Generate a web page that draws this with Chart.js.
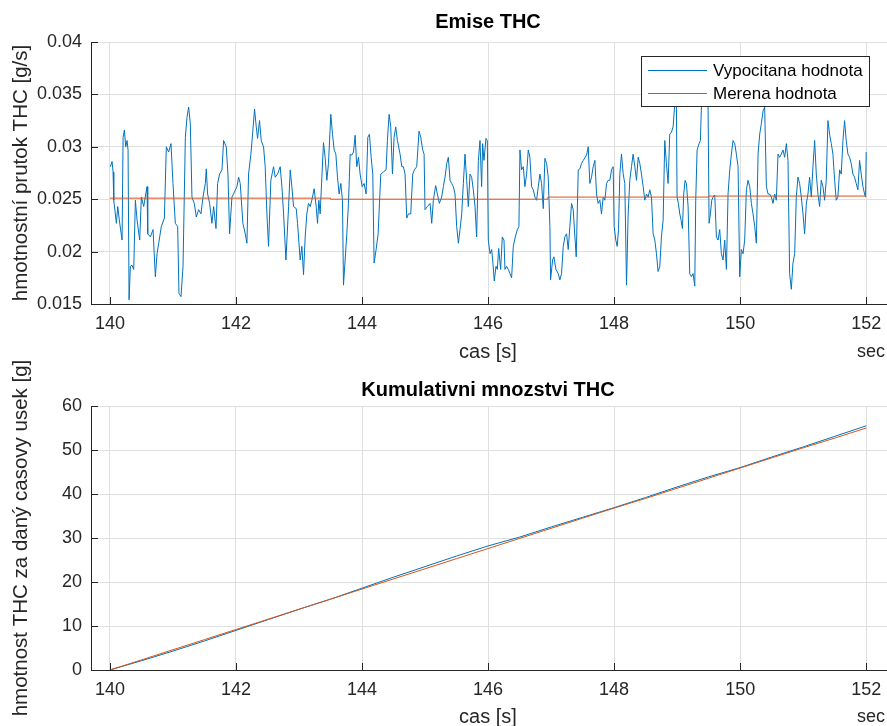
<!DOCTYPE html>
<html>
<head>
<meta charset="utf-8">
<script src="https://cdn.jsdelivr.net/npm/chart.js@4.4.1/dist/chart.umd.min.js"></script>
<style>
    html, body { margin: 0; padding: 0; background: #fff; }
    #wrap { position: relative; width: 887px; height: 726px; overflow: hidden; }
    canvas { position: absolute; left: 0; }
    #emise { top: 0; }
    #kumul { top: 330px; }
</style>
</head>
<body>
<div id="wrap">
    <canvas id="emise" width="887" height="363"></canvas>
    <canvas id="kumul" width="887" height="396"></canvas>
</div>
<script>
/* ===========================
   DATA
=========================== */

const xTicks = [140, 142, 144, 146, 148, 150, 152];
const emiseTicks = [0.015, 0.02, 0.025, 0.03, 0.035, 0.04];
const kumulTicks = [0, 10, 20, 30, 40, 50, 60];

// Emise THC - vypocitana hodnota (cas [s], g/s)
const casVypocitana = [
    140.008, 140.034, 140.050, 140.061, 140.103, 140.124, 140.156, 140.193, 140.209, 140.230,
    140.251, 140.272, 140.288, 140.304, 140.325, 140.351, 140.378, 140.404, 140.431, 140.473,
    140.499, 140.536, 140.589, 140.600, 140.642, 140.684, 140.721, 140.748, 140.790, 140.816,
    140.864, 140.895, 140.932, 140.969, 141.001, 141.038, 141.075, 141.096, 141.128, 141.160,
    141.197, 141.223, 141.249, 141.276, 141.302, 141.339, 141.371, 141.408, 141.445, 141.477,
    141.514, 141.529, 141.550, 141.582, 141.619, 141.646, 141.683, 141.709, 141.741, 141.778,
    141.804, 141.846, 141.873, 141.899, 141.936, 141.962, 142.015, 142.042, 142.068, 142.110,
    142.147, 142.174, 142.200, 142.237, 142.269, 142.295, 142.322, 142.343, 142.374, 142.401,
    142.438, 142.464, 142.491, 142.517, 142.554, 142.596, 142.623, 142.660, 142.702, 142.729,
    142.756, 142.793, 142.835, 142.861, 142.887, 142.914, 142.956, 142.977, 143.019, 143.046,
    143.072, 143.098, 143.125, 143.151, 143.178, 143.204, 143.241, 143.273, 143.294, 143.315,
    143.336, 143.363, 143.389, 143.415, 143.442, 143.468, 143.505, 143.532, 143.558, 143.585,
    143.611, 143.637, 143.664, 143.690, 143.706, 143.732, 143.759, 143.785, 143.812, 143.838,
    143.865, 143.891, 143.917, 143.944, 143.970, 144.002, 144.034, 144.065, 144.092, 144.118,
    144.145, 144.171, 144.192, 144.224, 144.256, 144.277, 144.298, 144.340, 144.382, 144.403,
    144.430, 144.456, 144.483, 144.509, 144.535, 144.562, 144.604, 144.631, 144.657, 144.683,
    144.710, 144.736, 144.773, 144.805, 144.831, 144.868, 144.905, 144.932, 144.963, 144.985,
    145.000, 145.037, 145.080, 145.106, 145.132, 145.169, 145.196, 145.227, 145.264, 145.291,
    145.317, 145.344, 145.370, 145.397, 145.423, 145.449, 145.476, 145.502, 145.529, 145.555,
    145.582, 145.608, 145.634, 145.661, 145.687, 145.714, 145.740, 145.766, 145.793, 145.819,
    145.846, 145.872, 145.898, 145.914, 145.935, 145.967, 145.988, 146.004, 146.031, 146.057,
    146.073, 146.099, 146.126, 146.147, 146.168, 146.200, 146.226, 146.253, 146.268, 146.295,
    146.321, 146.348, 146.374, 146.400, 146.432, 146.464, 146.490, 146.506, 146.532, 146.559,
    146.585, 146.612, 146.638, 146.664, 146.691, 146.717, 146.744, 146.770, 146.797, 146.823,
    146.849, 146.876, 146.902, 146.929, 146.955, 146.981, 146.992, 147.024, 147.045, 147.077,
    147.114, 147.140, 147.166, 147.193, 147.219, 147.246, 147.272, 147.298, 147.325, 147.351,
    147.378, 147.399, 147.431, 147.457, 147.483, 147.510, 147.542, 147.563, 147.589, 147.615,
    147.642, 147.668, 147.695, 147.721, 147.747, 147.774, 147.800, 147.827, 147.853, 147.880,
    147.906, 147.932, 147.959, 147.985, 148.001, 148.027, 148.049, 148.070, 148.091, 148.117,
    148.144, 148.170, 148.197, 148.223, 148.249, 148.276, 148.302, 148.329, 148.355, 148.382,
    148.408, 148.434, 148.461, 148.487, 148.514, 148.540, 148.566, 148.593, 148.619, 148.646,
    148.672, 148.698, 148.725, 148.751, 148.778, 148.804, 148.830, 148.857, 148.883, 148.910,
    148.936, 148.963, 148.978, 148.989, 148.999, 149.020, 149.042, 149.063, 149.084, 149.105,
    149.126, 149.147, 149.174, 149.200, 149.227, 149.253, 149.280, 149.295, 149.317, 149.348,
    149.369, 149.385, 149.412, 149.465, 149.491, 149.507, 149.528, 149.549, 149.570, 149.597,
    149.623, 149.650, 149.676, 149.702, 149.729, 149.755, 149.782, 149.808, 149.835, 149.861,
    149.887, 149.914, 149.940, 149.967, 149.993, 150.019, 150.046, 150.072, 150.099, 150.125,
    150.152, 150.178, 150.204, 150.231, 150.257, 150.284, 150.310, 150.336, 150.363, 150.389,
    150.416, 150.442, 150.468, 150.495, 150.521, 150.548, 150.574, 150.601, 150.627, 150.653,
    150.680, 150.706, 150.733, 150.759, 150.785, 150.812, 150.838, 150.865, 150.891, 150.917,
    150.944, 150.970, 150.997, 151.023, 151.050, 151.076, 151.102, 151.129, 151.155, 151.182,
    151.208, 151.234, 151.261, 151.287, 151.314, 151.340, 151.366, 151.393, 151.419, 151.446,
    151.472, 151.499, 151.525, 151.551, 151.578, 151.604, 151.631, 151.657, 151.683, 151.710,
    151.736, 151.763, 151.789, 151.815, 151.842, 151.868, 151.895, 151.921, 151.948, 151.974,
    151.990, 152.000
];

const vypocitana = [
    0.0281, 0.0286, 0.0276, 0.0249, 0.0227, 0.0243, 0.0227, 0.0211, 0.0309, 0.0316,
    0.0300, 0.0306, 0.0297, 0.0154, 0.0186, 0.0187, 0.0183, 0.0249, 0.0230, 0.0211,
    0.0252, 0.0243, 0.0262, 0.0217, 0.0214, 0.0221, 0.0176, 0.0198, 0.0214, 0.0224,
    0.0232, 0.0300, 0.0295, 0.0303, 0.0265, 0.0227, 0.0224, 0.0160, 0.0157, 0.0186,
    0.0309, 0.0328, 0.0338, 0.0322, 0.0252, 0.0246, 0.0233, 0.0240, 0.0236, 0.0252,
    0.0265, 0.0279, 0.0255, 0.0246, 0.0227, 0.0243, 0.0222, 0.0265, 0.0274, 0.0278,
    0.0306, 0.0300, 0.0274, 0.0217, 0.0252, 0.0255, 0.0262, 0.0271, 0.0265, 0.0227,
    0.0217, 0.0208, 0.0274, 0.0293, 0.0316, 0.0336, 0.0319, 0.0308, 0.0325, 0.0306,
    0.0300, 0.0281, 0.0236, 0.0205, 0.0268, 0.0281, 0.0271, 0.0274, 0.0281, 0.0262,
    0.0236, 0.0192, 0.0243, 0.0278, 0.0262, 0.0243, 0.0241, 0.0227, 0.0192, 0.0205,
    0.0178, 0.0214, 0.0236, 0.0246, 0.0243, 0.0249, 0.0260, 0.0243, 0.0227, 0.0249,
    0.0236, 0.0271, 0.0304, 0.0290, 0.0268, 0.0284, 0.0331, 0.0312, 0.0297, 0.0293,
    0.0271, 0.0255, 0.0265, 0.0249, 0.0168, 0.0192, 0.0217, 0.0246, 0.0293, 0.0292,
    0.0295, 0.0311, 0.0281, 0.0290, 0.0274, 0.0262, 0.0265, 0.0255, 0.0309, 0.0312,
    0.0290, 0.0274, 0.0189, 0.0202, 0.0217, 0.0246, 0.0274, 0.0276, 0.0278, 0.0306,
    0.0331, 0.0319, 0.0274, 0.0309, 0.0319, 0.0306, 0.0293, 0.0281, 0.0281, 0.0274,
    0.0232, 0.0236, 0.0236, 0.0274, 0.0278, 0.0281, 0.0315, 0.0309, 0.0297, 0.0293,
    0.0240, 0.0243, 0.0246, 0.0227, 0.0249, 0.0263, 0.0255, 0.0246, 0.0252, 0.0262,
    0.0271, 0.0284, 0.0290, 0.0268, 0.0265, 0.0262, 0.0255, 0.0224, 0.0208, 0.0221,
    0.0236, 0.0265, 0.0293, 0.0268, 0.0243, 0.0274, 0.0271, 0.0259, 0.0243, 0.0214,
    0.0287, 0.0306, 0.0262, 0.0303, 0.0287, 0.0308, 0.0306, 0.0211, 0.0198, 0.0202,
    0.0192, 0.0172, 0.0186, 0.0183, 0.0203, 0.0183, 0.0214, 0.0211, 0.0183, 0.0186,
    0.0183, 0.0179, 0.0175, 0.0205, 0.0214, 0.0221, 0.0224, 0.0297, 0.0278, 0.0281,
    0.0262, 0.0274, 0.0297, 0.0290, 0.0262, 0.0259, 0.0252, 0.0249, 0.0262, 0.0274,
    0.0265, 0.0241, 0.0289, 0.0284, 0.0271, 0.0224, 0.0173, 0.0192, 0.0195, 0.0183,
    0.0179, 0.0173, 0.0179, 0.0205, 0.0214, 0.0217, 0.0202, 0.0224, 0.0246, 0.0240,
    0.0214, 0.0195, 0.0278, 0.0279, 0.0284, 0.0287, 0.0290, 0.0292, 0.0300, 0.0265,
    0.0271, 0.0281, 0.0287, 0.0255, 0.0246, 0.0249, 0.0236, 0.0252, 0.0249, 0.0265,
    0.0268, 0.0268, 0.0278, 0.0281, 0.0224, 0.0211, 0.0205, 0.0221, 0.0274, 0.0293,
    0.0274, 0.0265, 0.0168, 0.0236, 0.0268, 0.0281, 0.0293, 0.0281, 0.0268, 0.0290,
    0.0284, 0.0274, 0.0262, 0.0249, 0.0255, 0.0252, 0.0259, 0.0252, 0.0217, 0.0211,
    0.0198, 0.0181, 0.0186, 0.0214, 0.0230, 0.0306, 0.0284, 0.0265, 0.0312, 0.0314,
    0.0319, 0.0341, 0.0360, 0.0338, 0.0252, 0.0246, 0.0236, 0.0230, 0.0222, 0.0255,
    0.0268, 0.0265, 0.0243, 0.0179, 0.0176, 0.0179, 0.0167, 0.0249, 0.0297, 0.0303,
    0.0306, 0.0338, 0.0360, 0.0357, 0.0338, 0.0227, 0.0236, 0.0249, 0.0252, 0.0254,
    0.0214, 0.0211, 0.0221, 0.0198, 0.0192, 0.0211, 0.0183, 0.0255, 0.0278, 0.0293,
    0.0306, 0.0303, 0.0293, 0.0281, 0.0176, 0.0202, 0.0198, 0.0211, 0.0259, 0.0268,
    0.0262, 0.0246, 0.0236, 0.0224, 0.0208, 0.0293, 0.0312, 0.0322, 0.0334, 0.0338,
    0.0262, 0.0255, 0.0255, 0.0252, 0.0246, 0.0255, 0.0249, 0.0293, 0.0290, 0.0293,
    0.0297, 0.0290, 0.0303, 0.0287, 0.0179, 0.0164, 0.0189, 0.0198, 0.0252, 0.0271,
    0.0265, 0.0252, 0.0236, 0.0217, 0.0246, 0.0255, 0.0271, 0.0252, 0.0281, 0.0306,
    0.0274, 0.0255, 0.0243, 0.0268, 0.0262, 0.0249, 0.0268, 0.0325, 0.0312, 0.0303,
    0.0293, 0.0268, 0.0249, 0.0252, 0.0278, 0.0274, 0.0306, 0.0325, 0.0306, 0.0293,
    0.0290, 0.0284, 0.0274, 0.0271, 0.0265, 0.0259, 0.0287, 0.0274, 0.0262, 0.0255,
    0.0252, 0.0295
];

// Emise THC - merena hodnota (skokove zmeny)
const casMerena = [140, 143.5, 146.95, 149.5, 152];
const merena = [0.0251, 0.0250, 0.0252, 0.0253, 0.0253];

// Kumulativni mnozstvi THC [g]
const casKumul = [
    140, 140.5, 141, 141.5, 142, 142.5, 143, 143.5, 144, 144.5, 145, 145.5, 146,
    146.5, 147, 147.5, 148, 148.5, 149, 149.5, 150, 150.5, 151, 151.5, 152
];
const kumulVypocitana = [
    0, 2.1, 4.3, 6.6, 9.0, 11.4, 13.8, 16.1, 18.6, 21.1, 23.5, 25.9, 28.2,
    30.2, 32.5, 34.7, 36.9, 39.2, 41.6, 43.9, 46.0, 48.4, 50.7, 53.1, 55.5
];
const kumulMerena = [
    0, 2.3, 4.6, 6.9, 9.2, 11.5, 13.8, 16.1, 18.4, 20.7, 23.0, 25.3, 27.6,
    29.9, 32.2, 34.5, 36.8, 39.0, 41.3, 43.6, 45.9, 48.2, 50.5, 52.7, 55.0
];

/* ===========================
   STYLE HELPERS
=========================== */

const INK = '#262626';
const GRID = '#dfdfdf';
const BLUE = '#0072BD';
const ORANGE = '#D95319';
const FONT = '"Liberation Sans", Arial, sans-serif';

const toPoints = (xs, ys) => xs.map((x, i) => ({ x: x, y: ys[i] }));

// matlab-like decorations: inward ticks, titles, axis labels, legend
function decor(opts) {
    return {
        id: 'decor',
        afterDraw(chart) {
            const ctx = chart.ctx;
            const a = chart.chartArea;
            const xs = chart.scales.x;
            const ys = chart.scales.y;
            ctx.save();

            ctx.strokeStyle = INK;
            ctx.lineWidth = 1;
            ctx.beginPath();
            xs.ticks.forEach(t => {
                const px = Math.round(xs.getPixelForValue(t.value)) + 0.5;
                ctx.moveTo(px, a.bottom);
                ctx.lineTo(px, a.bottom - 7);
            });
            ys.ticks.forEach(t => {
                const py = Math.round(ys.getPixelForValue(t.value)) + 0.5;
                ctx.moveTo(a.left, py);
                ctx.lineTo(a.left + 7, py);
            });
            ctx.stroke();

            ctx.textAlign = 'center';
            ctx.textBaseline = 'middle';
            ctx.fillStyle = '#000';
            ctx.font = 'bold 20px ' + FONT;
            ctx.fillText(opts.title, 488, opts.titleY);

            ctx.fillStyle = INK;
            ctx.font = '20px ' + FONT;
            ctx.fillText('cas [s]', 488, opts.xLabelY);
            ctx.font = '18px ' + FONT;
            ctx.textAlign = 'right';
            ctx.fillText('sec', 885, opts.xLabelY);

            ctx.save();
            ctx.translate(21, (a.top + a.bottom) / 2);
            ctx.rotate(-Math.PI / 2);
            ctx.textAlign = 'center';
            ctx.font = '20.5px ' + FONT;
            ctx.fillText(opts.yLabel, 0, 0);
            ctx.restore();

            if (opts.legend) {
                const ds = chart.data.datasets;
                ctx.fillStyle = '#fff';
                ctx.fillRect(641.5, 56.5, 228, 50);
                ctx.strokeStyle = INK;
                ctx.strokeRect(641.5, 56.5, 228, 50);
                ds.forEach((d, i) => {
                    const y = 70 + i * 23;
                    ctx.strokeStyle = d.borderColor;
                    ctx.beginPath();
                    ctx.moveTo(648, y + 0.5);
                    ctx.lineTo(707, y + 0.5);
                    ctx.stroke();
                    ctx.fillStyle = '#000';
                    ctx.font = '17px ' + FONT;
                    ctx.textAlign = 'left';
                    ctx.fillText(d.label, 713, y + 1);
                });
            }
            ctx.restore();
        }
    };
}

function scalesFor(yMin, yMax, yTickList, xHeight) {
    return {
        x: {
            type: 'linear',
            min: 139.7,
            max: 152.33,
            afterBuildTicks: s => { s.ticks = xTicks.map(v => ({ value: v })); },
            afterFit: s => {
                s.height = xHeight;
                s.paddingLeft = 0;
                s.paddingRight = 0;
            },
            grid: { color: GRID, drawTicks: false },
            border: { color: INK, width: 1 },
            ticks: {
                padding: 9,
                color: INK,
                font: { family: FONT, size: 18 },
                maxRotation: 0,
                callback: v => String(v)
            }
        },
        y: {
            type: 'linear',
            min: yMin,
            max: yMax,
            afterBuildTicks: s => { s.ticks = yTickList.map(v => ({ value: v })); },
            afterFit: s => {
                s.width = 91;
                s.paddingTop = 0;
                s.paddingBottom = 0;
            },
            grid: { color: GRID, drawTicks: false },
            border: { color: INK, width: 1 },
            ticks: {
                padding: 9,
                color: INK,
                font: { family: FONT, size: 18 },
                callback: v => String(v)
            }
        }
    };
}

const common = {
    responsive: false,
    animation: false,
    devicePixelRatio: 1,
    plugins: { legend: { display: false }, tooltip: { enabled: false } },
    elements: { point: { radius: 0 }, line: { borderWidth: 1, tension: 0 } }
};

/* ===========================
   EMISE THC
=========================== */

new Chart(document.getElementById('emise'), {
    type: 'line',
    data: {
        datasets: [{
            label: 'Vypocitana hodnota',
            data: toPoints(casVypocitana, vypocitana),
            borderColor: BLUE,
            order: 1
        }, {
            label: 'Merena hodnota',
            data: toPoints(casMerena, merena),
            borderColor: ORANGE,
            stepped: true,
            order: 0
        }]
    },
    options: Object.assign({}, common, {
        layout: { padding: { top: 42, left: 0, right: 0, bottom: 0 } },
        scales: scalesFor(0.015, 0.04, emiseTicks, 59)
    }),
    plugins: [decor({
        title: 'Emise THC',
        titleY: 22,
        xLabelY: 352,
        yLabel: 'hmotnostní prutok THC [g/s]',
        legend: true
    })]
});

/* ===========================
   KUMULATIVNI MNOZSTVI
=========================== */

new Chart(document.getElementById('kumul'), {
    type: 'line',
    data: {
        datasets: [{
            label: 'Vypocitana hodnota',
            data: toPoints(casKumul, kumulVypocitana),
            borderColor: BLUE,
            order: 1
        }, {
            label: 'Merena hodnota',
            data: toPoints(casKumul, kumulMerena),
            borderColor: ORANGE,
            order: 0
        }]
    },
    options: Object.assign({}, common, {
        layout: { padding: { top: 76, left: 0, right: 0, bottom: 0 } },
        scales: scalesFor(0, 60, kumulTicks, 56)
    }),
    plugins: [decor({
        title: 'Kumulativni mnozstvi THC',
        titleY: 60,
        xLabelY: 387,
        yLabel: 'hmotnost THC za daný casovy usek [g]',
        legend: false
    })]
});
</script>
</body>
</html>
